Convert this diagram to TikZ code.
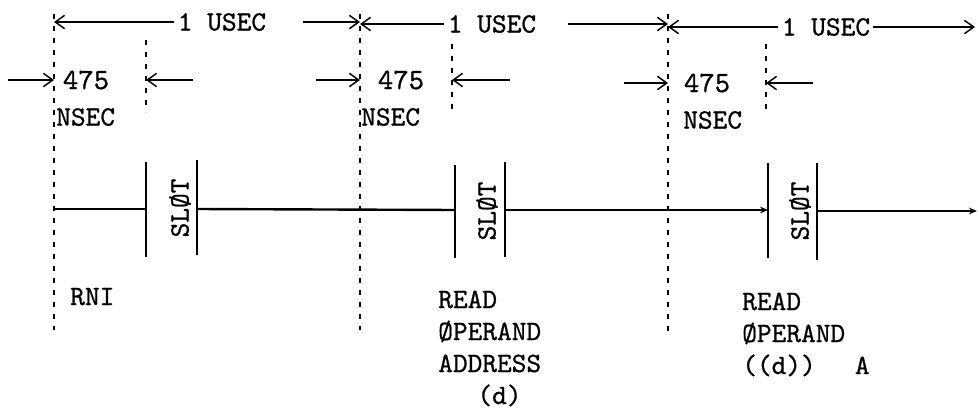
\documentclass[tikz,border=0pt]{standalone}
\usepackage{fontspec}
\setmonofont{lmmono10-regular.otf}[FakeBold=0.8]
\usetikzlibrary{arrows.meta}
\begin{document}
\begin{tikzpicture}[x=0.75pt,y=-0.75pt,
  lbl/.style={font=\ttfamily\fontsize{21}{24}\selectfont, inner sep=0pt},
  big/.style={font=\ttfamily\fontsize{22}{24}\selectfont, inner sep=0pt},
  tip/.tip={Straight Barb[length=7pt,width=10pt,line width=1.1pt]},
  dim/.style={line width=1.1pt, -tip},
  guide/.style={line width=1.3pt, dash pattern=on 4pt off 5pt},
  tline/.style={line width=1.8pt},
  bar/.style={line width=1.8pt}]
\path[use as bounding box] (0,0) rectangle (979,414);

% guide lines
\coordinate (g1t) at (54,14);  \coordinate (g1b) at (54,330);
\coordinate (g2t) at (360,14); \coordinate (g2b) at (360,330);
\coordinate (g3t) at (668,14); \coordinate (g3b) at (668,337);
\coordinate (s1t) at (146,40); \coordinate (s1b) at (146,112);
\coordinate (s2t) at (452,44); \coordinate (s2b) at (452,112);
\coordinate (s3t) at (766,44); \coordinate (s3b) at (766,112);
\foreach \c in {g1,g2,g3,s1,s2,s3} \draw[guide] (\c t) -- (\c b);

% top row: 1 USEC
\node[lbl] (u1) at (222,22) {1 USEC};
\node[lbl] (u2) at (492,24) {1 USEC};
\node[lbl] (u3) at (826,27) {1 USEC};
\coordinate (u1l) at (54,22);  \coordinate (u1r0) at (303,22); \coordinate (u1r) at (360,22);
\coordinate (u2l) at (360,24); \coordinate (u2r0) at (568,24); \coordinate (u2r) at (668,24);
\coordinate (u3l) at (668,27); \coordinate (u3r) at (975,27);
\draw[dim] ([xshift=-3pt]u1.west) -- (u1l);
\draw[dim] (u1r0) -- (u1r);
\draw[dim] ([xshift=-3pt]u2.west) -- (u2l);
\draw[dim] (u2r0) -- (u2r);
\draw[dim] ([xshift=-3pt]u3.west) -- (u3l);
\draw[dim] ([xshift=2pt]u3.east) -- (u3r);

% second row: 475 NSEC
\node[big] (n1) at (86,80) {475};
\node[big] (n2) at (401,80) {475};
\node[big] (n3) at (707,83) {475};
\node[lbl,anchor=west] (ns1) at (56,117) {NSEC};
\node[lbl,anchor=west] (ns2) at (361,117) {NSEC};
\node[lbl,anchor=west] (ns3) at (683,120) {NSEC};
\coordinate (a1s) at (8,80);   \coordinate (a1e) at (54,80);
\coordinate (b1s) at (193,80); \coordinate (b1e) at (146,80);
\coordinate (a2s) at (316,80); \coordinate (a2e) at (360,80);
\coordinate (b2s) at (510,80); \coordinate (b2e) at (452,80);
\coordinate (a3s) at (624,83); \coordinate (a3e) at (668,83);
\coordinate (b3s) at (813,83); \coordinate (b3e) at (766,83);
\foreach \c in {a1,b1,a2,b2,a3,b3} \draw[dim] (\c s) -- (\c e);

% timeline
\coordinate (t0) at (54,209);
\coordinate (p1a) at (146,209); \coordinate (p1b) at (197,209);
\coordinate (p2a) at (455,210); \coordinate (p2b) at (505,210);
\coordinate (p3a) at (768,210); \coordinate (p3b) at (817,211);
\coordinate (tend) at (977,211);
\draw[tline] (t0) -- (p1a);
\draw[tline] (p1b) -- (p2a);
\draw[tline,-{Stealth[length=6pt,width=5pt]}] (p2b) -- (p3a);
\draw[tline,-{Stealth[length=6pt,width=5pt]}] (p3b) -- (tend);
\draw[bar] (146,162) -- (146,257);
\draw[bar] (197,160) -- (197,255);
\draw[bar] (455,165) -- (455,258);
\draw[bar] (505,162) -- (505,257);
\draw[bar] (768,163) -- (768,258);
\draw[bar] (817,163) -- (817,260);
\node[lbl,rotate=90] (sl1) at (180,208) {SLØT};
\node[lbl,rotate=90] (sl2) at (487,211) {SLØT};
\node[lbl,rotate=90] (sl3) at (800,211) {SLØT};

% bottom labels
\node[lbl,anchor=base west] (rni) at (70,305) {RNI};
\node[lbl,anchor=base west,align=left] (rd1) at (438,404)
  {READ\\ØPERAND\\ADDRESS\\\hspace*{1.4em}(d)};
\node[lbl,anchor=base west,align=left] (rd2) at (742,374)
  {READ\\ØPERAND\\((d))\hspace*{1.4em}A};
\end{tikzpicture}
\end{document}
